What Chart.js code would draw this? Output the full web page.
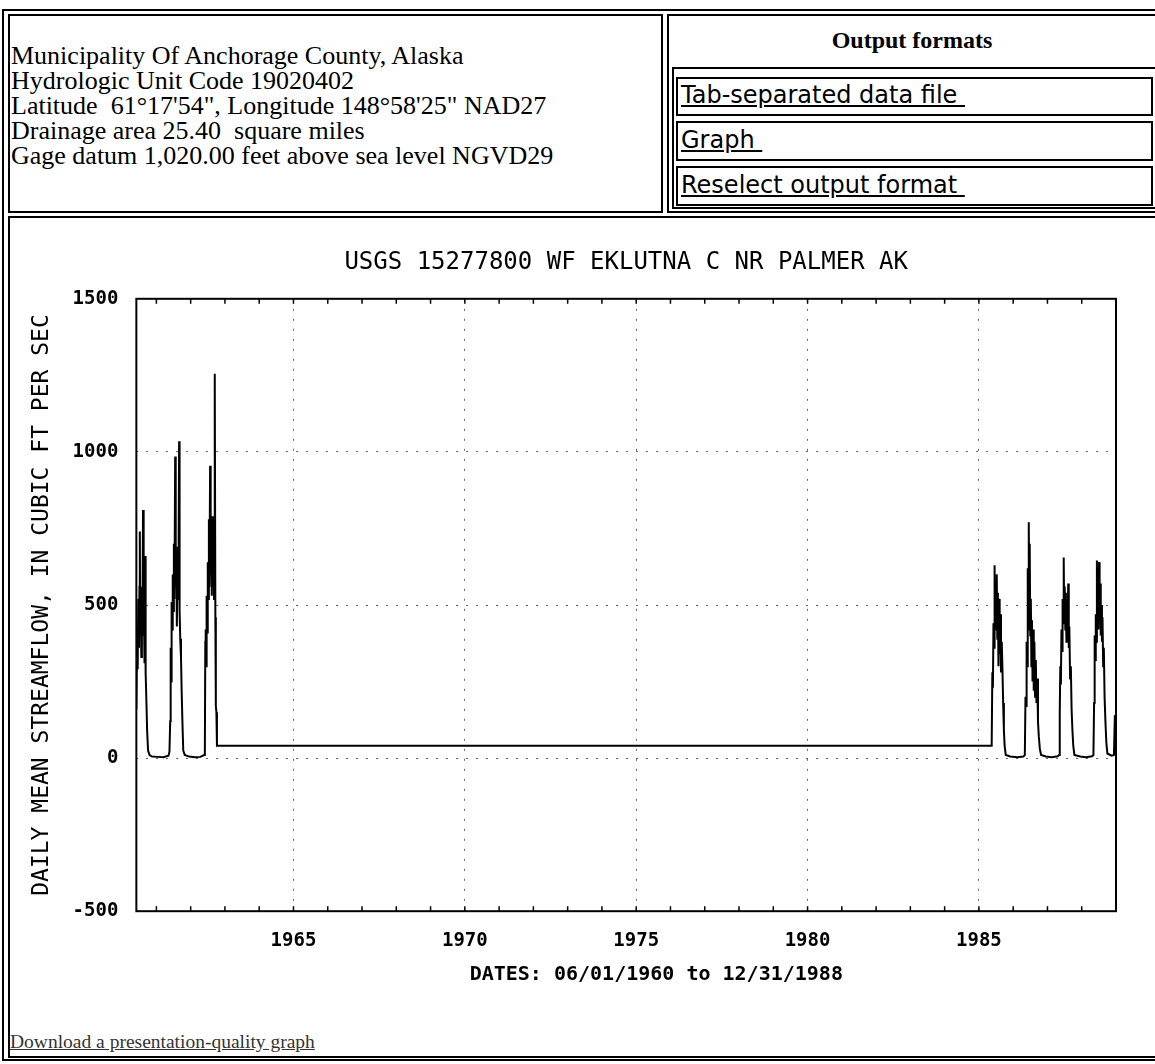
<!DOCTYPE html>
<html>
<head>
<meta charset="utf-8">
<script src="https://cdn.jsdelivr.net/npm/chart.js@4.4.0/dist/chart.umd.min.js"></script>
<style>
  body { margin: 0; background: #fff; width: 1155px; height: 1064px; overflow: hidden; position: relative; }
  .box { position: absolute; border: 2px solid #000; box-sizing: border-box; }
  .info { position: absolute; left: 11px; top: 43px; font-family: "Liberation Serif", serif; font-size: 26px; line-height: 25px; color: #000; }
  .head { position: absolute; left: 668px; width: 488px; top: 27px; text-align: center; font-family: "Liberation Serif", serif; font-weight: bold; font-size: 24px; }
  .lnk { position: absolute; left: 681px; font-family: "DejaVu Sans", sans-serif; font-size: 24px; color: #000; text-decoration: underline; }
  .dl { position: absolute; left: 10px; top: 1031px; font-family: "Liberation Serif", serif; font-size: 19.5px; color: #333; text-decoration: underline; }
  #wrap { position: absolute; left: 10px; top: 222px; width: 1140px; height: 770px; }
</style>
</head>
<body>
<div class="box" style="left:2px; top:9px; width:1170px; height:1052px;"></div>
<div class="box" style="left:8px; top:14px; width:655px; height:199px;"></div>
<div class="box" style="left:667px; top:14px; width:500px; height:199px;"></div>
<div class="box" style="left:672px; top:67px; width:490px; height:142px;"></div>
<div class="box" style="left:676px; top:77px; width:477px; height:39px;"></div>
<div class="box" style="left:676px; top:121px; width:477px; height:40px;"></div>
<div class="box" style="left:676px; top:166px; width:477px; height:40px;"></div>
<div class="box" style="left:8px; top:216px; width:1160px; height:842px;"></div>

<div class="info">
  Municipality Of Anchorage County, Alaska<br>
  Hydrologic Unit Code 19020402<br>
  Latitude &nbsp;61°17'54", Longitude 148°58'25" NAD27<br>
  Drainage area 25.40 &nbsp;square miles<br>
  Gage datum 1,020.00 feet above sea level NGVD29
</div>
<div class="head">Output formats</div>
<div class="lnk" style="top:81px;">Tab-separated data file&nbsp;</div>
<div class="lnk" style="top:126px;">Graph&nbsp;</div>
<div class="lnk" style="top:171px;">Reselect output format&nbsp;</div>
<div class="dl">Download a presentation-quality graph</div>

<div id="wrap"><canvas id="flow_chart"></canvas></div>

<script>
// daily mean streamflow (cfs)
var dates1960s = [
    '1960-06-01', '1960-06-08', '1960-06-15', '1960-06-22', '1960-06-29', '1960-07-04', '1960-07-08', '1960-07-12',
    '1960-07-18', '1960-07-24', '1960-07-30', '1960-08-05', '1960-08-11', '1960-08-15', '1960-08-21', '1960-08-27',
    '1960-09-02', '1960-09-06', '1960-09-10', '1960-09-16', '1960-09-24', '1960-10-04', '1960-10-20', '1960-11-15',
    '1961-01-15', '1961-03-15', '1961-05-10',
    '1961-05-20', '1961-05-28', '1961-06-02', '1961-06-07', '1961-06-12', '1961-06-18', '1961-06-24', '1961-06-30',
    '1961-07-06', '1961-07-12', '1961-07-20', '1961-07-26', '1961-08-01', '1961-08-07', '1961-08-14', '1961-08-20',
    '1961-08-26', '1961-08-31', '1961-09-05', '1961-09-12', '1961-09-20', '1961-09-27', '1961-10-05', '1961-10-14',
    '1961-10-30', '1961-12-15', '1962-02-15', '1962-04-15', '1962-05-25',
    '1962-06-01', '1962-06-06', '1962-06-10', '1962-06-15', '1962-06-20', '1962-06-26', '1962-07-02', '1962-07-08',
    '1962-07-14', '1962-07-20', '1962-07-27', '1962-08-02', '1962-08-08', '1962-08-14', '1962-08-20', '1962-08-26',
    '1962-09-01', '1962-09-07', '1962-09-12', '1962-09-17', '1962-09-21', '1962-09-26', '1962-10-02', '1962-10-08'
];
var flow1960s = [
    160, 380, 290, 520, 360, 560, 740, 410,
    530, 330, 560, 450, 810, 400, 550, 310,
    480, 660, 280, 190, 90, 25, 10, 5,
    4, 3, 8,
    20, 120, 360, 250, 510, 420, 600, 480,
    700, 520, 985, 560, 690, 430, 640, 520,
    720, 1035, 480, 390, 330, 220, 120, 25,
    10, 5, 3, 4, 10,
    15, 380, 420, 300, 530, 410, 640, 520,
    780, 560, 955, 600, 720, 530, 790, 560,
    680, 520, 760, 1255, 460, 170, 150, 40
];
var dates1980s = [
    '1985-05-17', '1985-05-24', '1985-05-30', '1985-06-05', '1985-06-11', '1985-06-17', '1985-06-22', '1985-06-28',
    '1985-07-04', '1985-07-10', '1985-07-16', '1985-07-22', '1985-07-28', '1985-08-04', '1985-08-10', '1985-08-17',
    '1985-08-24', '1985-09-01', '1985-09-08', '1985-09-16', '1985-09-24', '1985-10-02', '1985-10-14', '1985-11-30',
    '1986-02-15', '1986-04-20',
    '1986-05-05', '1986-05-12', '1986-05-18', '1986-05-24', '1986-05-30', '1986-06-05', '1986-06-10', '1986-06-16',
    '1986-06-21', '1986-06-26', '1986-07-02', '1986-07-08', '1986-07-14', '1986-07-20', '1986-07-26', '1986-08-02',
    '1986-08-08', '1986-08-15', '1986-08-22', '1986-08-30', '1986-09-06', '1986-09-14', '1986-09-22', '1986-10-01',
    '1986-10-12', '1986-10-25', '1986-12-15', '1987-02-15', '1987-04-20',
    '1987-05-05', '1987-05-12', '1987-05-18', '1987-05-24', '1987-05-30', '1987-06-05', '1987-06-11', '1987-06-17',
    '1987-06-23', '1987-06-28', '1987-07-04', '1987-07-10', '1987-07-16', '1987-07-22', '1987-07-28', '1987-08-04',
    '1987-08-10', '1987-08-16', '1987-08-22', '1987-08-30', '1987-09-07', '1987-09-15', '1987-09-24', '1987-10-03',
    '1987-10-15', '1987-12-15', '1988-02-15', '1988-04-20',
    '1988-05-05', '1988-05-12', '1988-05-18', '1988-05-24', '1988-05-30', '1988-06-05', '1988-06-11', '1988-06-16',
    '1988-06-22', '1988-06-28', '1988-07-04', '1988-07-10', '1988-07-16', '1988-07-22', '1988-07-28', '1988-08-04',
    '1988-08-10', '1988-08-17', '1988-08-24', '1988-09-01', '1988-09-10', '1988-09-20', '1988-10-01', '1988-11-15',
    '1988-12-10', '1988-12-20', '1988-12-31'
];
var flow1980s = [
    40, 280, 230, 440, 360, 630, 420, 560,
    480, 600, 390, 540, 300, 520, 340, 470,
    280, 380, 300, 180, 90, 40, 10, 5,
    3, 5,
    10, 200, 170, 380, 300, 620, 420, 770,
    480, 700, 400, 520, 300, 450, 250, 420,
    220, 380, 200, 320, 180, 260, 120, 70,
    30, 10, 5, 3, 6,
    10, 150, 300, 240, 420, 350, 520, 440,
    655, 480, 560, 420, 540, 380, 500, 420,
    570, 360, 430, 260, 300, 160, 90, 40,
    10, 5, 3, 6,
    10, 180, 400, 320, 470, 380, 645, 450,
    560, 420, 640, 480, 570, 400, 500, 380,
    460, 300, 360, 200, 120, 50, 15, 8,
    10, 140, 120
];

var yearTicks = [1961, 1962, 1963, 1964, 1965, 1966, 1967, 1968, 1969, 1970, 1971, 1972, 1973, 1974,
    1975, 1976, 1977, 1978, 1979, 1980, 1981, 1982, 1983, 1984, 1985, 1986, 1987, 1988];
var yTicks = [-500, 0, 500, 1000, 1500];
var startDate = '1960-06-01';
var endDate = '1989-01-01';

function toYear(s) {
    var p = s.split('-').map(Number);
    var a = Date.UTC(p[0], 0, 1), b = Date.UTC(p[0] + 1, 0, 1);
    return p[0] + (Date.UTC(p[0], p[1] - 1, p[2]) - a) / (b - a);
}

var allDates = dates1960s.concat(dates1980s);
var allFlow = flow1960s.concat(flow1980s);
var points = allDates.map(function (d, i) { return { x: toYear(d), y: allFlow[i] }; });

// box round the plot and little inward year ticks, like the old USGS plots
var frame = {
    id: 'frame',
    afterDatasetsDraw: function (chart) {
        var a = chart.chartArea, c = chart.ctx, xs = chart.scales.x;
        c.save();
        c.strokeStyle = '#000';
        c.lineWidth = 2;
        c.strokeRect(a.left, a.top, a.right - a.left, a.bottom - a.top);
        c.lineWidth = 1.5;
        yearTicks.forEach(function (yr) {
            var px = xs.getPixelForValue(yr);
            c.beginPath();
            c.moveTo(px, a.bottom); c.lineTo(px, a.bottom - 5);
            c.moveTo(px, a.top); c.lineTo(px, a.top + 5);
            c.stroke();
        });
        c.restore();
    }
};

var tickFont = { family: 'DejaVu Sans Mono', size: 19, weight: 'bold' };
var clear = 'rgba(0,0,0,0)';

var ctx = document.getElementById('flow_chart').getContext('2d');
var flowChart = new Chart(ctx, {
    type: 'line',
    data: {
        datasets: [{
            data: points,
            borderColor: '#000',
            borderWidth: 2,
            pointRadius: 0,
            tension: 0,
            fill: false
        }]
    },
    options: {
        animation: false,
        responsive: true,
        maintainAspectRatio: false,
        layout: { padding: { left: 0, right: 34, top: 0, bottom: 0 } },
        plugins: {
            legend: { display: false },
            tooltip: { enabled: false },
            title: {
                display: true,
                fullSize: false,
                text: 'USGS 15277800 WF EKLUTNA C NR PALMER AK',
                color: '#000',
                font: { family: 'DejaVu Sans Mono', size: 24, weight: 'normal' },
                padding: { top: 26, bottom: 22 }
            }
        },
        scales: {
            x: {
                type: 'linear',
                min: toYear(startDate),
                max: toYear(endDate),
                afterBuildTicks: function (s) { s.ticks = yearTicks.map(function (v) { return { value: v }; }); },
                ticks: {
                    autoSkip: false,
                    maxRotation: 0,
                    padding: 4,
                    color: '#000',
                    font: tickFont,
                    callback: function (v) { return v % 5 === 0 ? String(v) : ''; }
                },
                grid: {
                    drawTicks: true,
                    tickLength: 14,
                    tickColor: clear,
                    color: function (c) { return c.tick && c.tick.value % 5 === 0 ? '#666' : clear; }
                },
                border: { display: false, dash: [2, 8] },
                title: {
                    display: true,
                    text: '     DATES: 06/01/1960 to 12/31/1988',
                    color: '#000',
                    font: { family: 'DejaVu Sans Mono', size: 20, weight: 'bold' },
                    padding: { top: 7, bottom: 5 }
                }
            },
            y: {
                min: -500,
                max: 1500,
                afterBuildTicks: function (s) { s.ticks = yTicks.map(function (v) { return { value: v }; }); },
                ticks: {
                    padding: 4,
                    color: '#000',
                    font: tickFont,
                    callback: function (v) { return String(v); }
                },
                grid: {
                    drawTicks: true,
                    tickLength: 14,
                    tickColor: clear,
                    color: function (c) { return c.tick && c.tick.value > -500 && c.tick.value < 1500 ? '#666' : clear; }
                },
                border: { display: false, dash: [2, 8] },
                title: {
                    display: true,
                    text: 'DAILY MEAN STREAMFLOW, IN CUBIC FT PER SEC',
                    color: '#000',
                    font: { family: 'DejaVu Sans Mono', size: 23, weight: 'normal' },
                    padding: { top: 18, bottom: 13 }
                }
            }
        }
    },
    plugins: [frame]
});
</script>
</body>
</html>
